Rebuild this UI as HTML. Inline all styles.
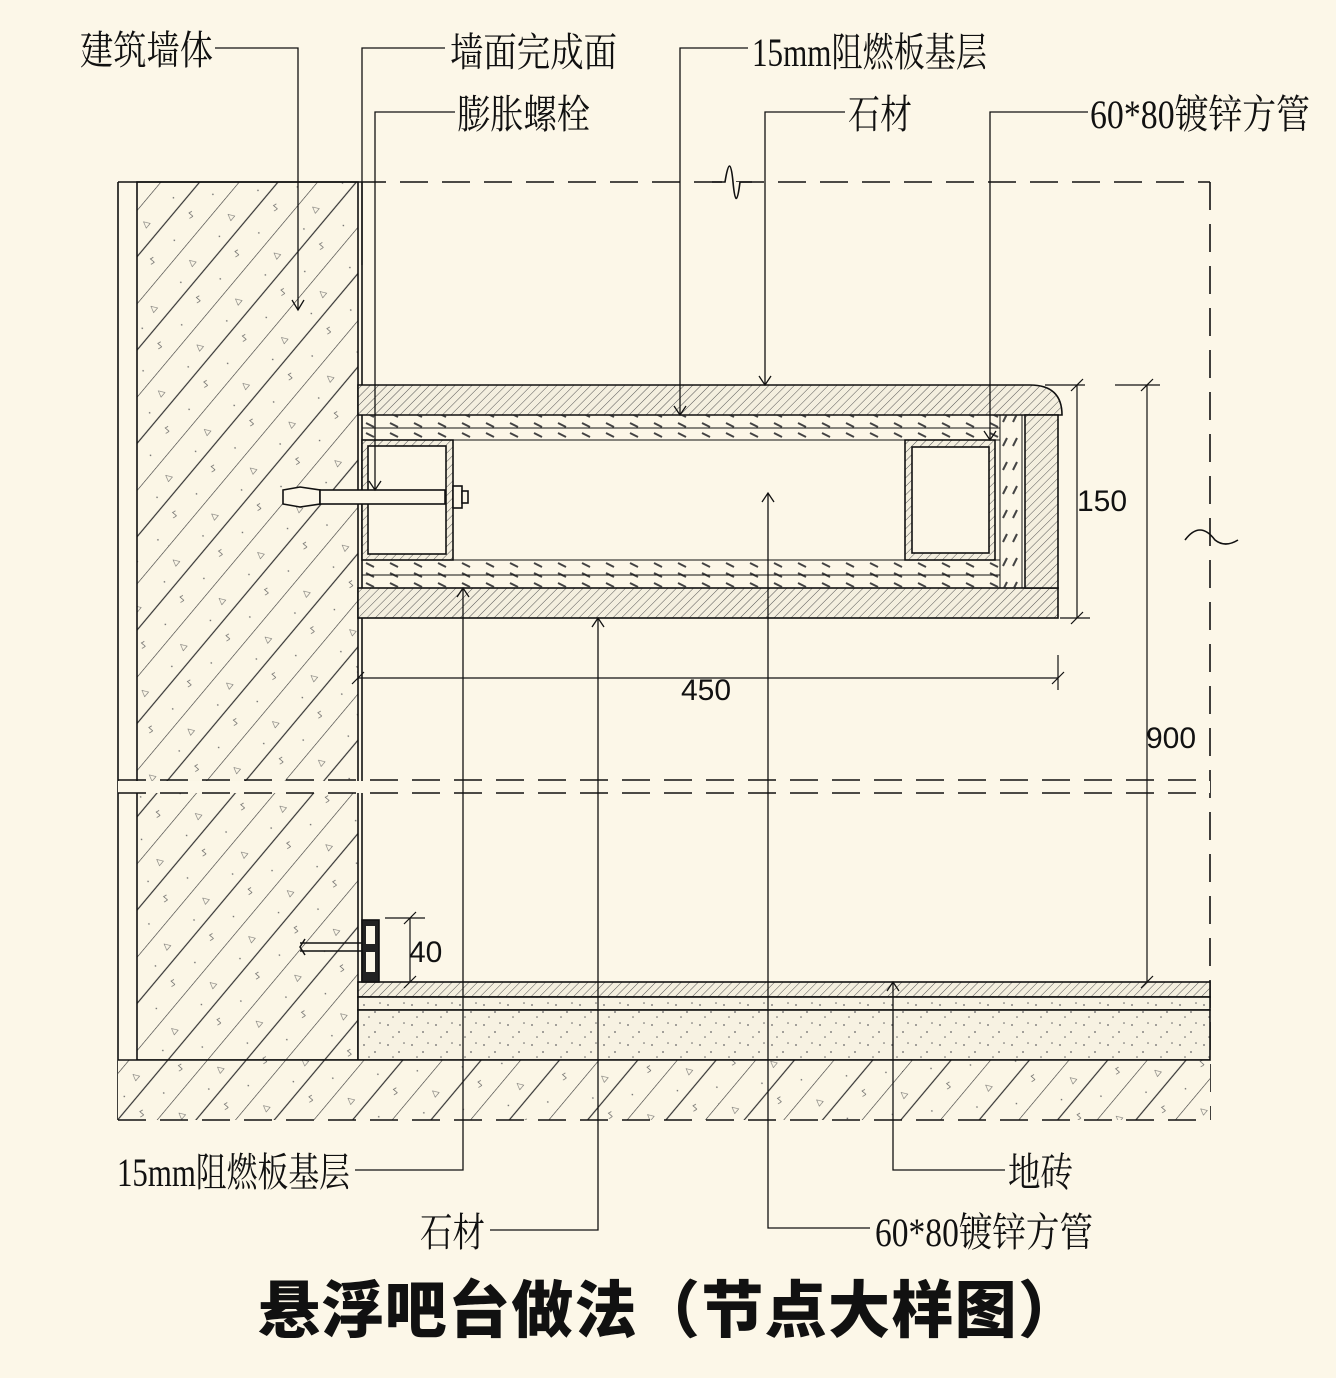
<!DOCTYPE html>
<html><head><meta charset="utf-8"><style>
html,body{margin:0;padding:0;background:#fcf7e8;}
svg{display:block}
.l{font-family:"Liberation Serif","Noto Serif CJK SC",serif;font-size:40px;fill:#111}
.d{font-family:"Liberation Sans",sans-serif;font-size:30px;fill:#111}
</style></head><body>
<svg width="1336" height="1378" viewBox="0 0 1336 1378" xmlns="http://www.w3.org/2000/svg">
<defs>
<pattern id="wall" width="60" height="60" patternUnits="userSpaceOnUse" patternTransform="rotate(40)">
<rect width="60" height="60" fill="#fbf6e6"/>
<line x1="0" y1="0" x2="0" y2="60" stroke="#333" stroke-width="1.2"/>
<line x1="30" y1="0" x2="30" y2="60" stroke="#333" stroke-width="1.2"/>
<text x="12" y="20" font-size="9" fill="#555">◁</text><text x="40" y="45" font-size="8" fill="#555">ㄣ</text>
<circle cx="20" cy="40" r="0.8" fill="#666"/><circle cx="48" cy="12" r="0.8" fill="#666"/>
</pattern>
<pattern id="fine" width="6" height="6" patternUnits="userSpaceOnUse" patternTransform="rotate(45)">
<rect width="6" height="6" fill="#f4efdf"/>
<line x1="0" y1="0" x2="0" y2="6" stroke="#555" stroke-width="1"/>
</pattern>
<pattern id="dots" width="24" height="20" patternUnits="userSpaceOnUse">
<rect width="24" height="20" fill="#f7f2e2"/>
<circle cx="4" cy="5" r="0.9" fill="#666"/><circle cx="15" cy="12" r="0.9" fill="#666"/><circle cx="9" cy="17" r="0.8" fill="#666"/><circle cx="20" cy="3" r="0.8" fill="#666"/>
</pattern>
<pattern id="board" width="24" height="10" patternUnits="userSpaceOnUse">
<line x1="6" y1="3" x2="14" y2="7" stroke="#444" stroke-width="2"/>
</pattern>
<pattern id="boardv" width="10" height="24" patternUnits="userSpaceOnUse">
<line x1="3" y1="14" x2="7" y2="6" stroke="#444" stroke-width="2"/>
</pattern>
</defs>
<rect width="1336" height="1378" fill="#fcf7e8"/>
<g stroke="#111" fill="none" stroke-width="1.6">
<!-- wall -->
<rect x="137" y="182" width="221" height="878" fill="url(#wall)"/>
<line x1="118" y1="182" x2="118" y2="1120"/>
<line x1="118" y1="182" x2="358" y2="182"/>
<line x1="358" y1="182" x2="1210" y2="182" stroke-dasharray="28,14"/>
<line x1="1210" y1="182" x2="1210" y2="1120" stroke-dasharray="28,14"/>
<path d="M712 182 L725 182 Q730 150 733 182 Q736 215 740 182 L752 182" fill="#fcf7e8"/>
<path d="M1185 540 Q1200 520 1215 540 Q1225 548 1238 540" />
<line x1="362" y1="182" x2="362" y2="1060"/>
<!-- break band -->
<rect x="118" y="781" width="1092" height="12" fill="#fcf7e8" stroke="none"/>
<line x1="118" y1="780" x2="1210" y2="780" stroke-dasharray="28,14"/>
<line x1="118" y1="793" x2="1210" y2="793" stroke-dasharray="28,14"/>
<!-- floor -->
<rect x="358" y="982" width="852" height="15" fill="url(#fine)"/>
<rect x="358" y="997" width="852" height="13" fill="url(#dots)"/>
<rect x="358" y="1010" width="852" height="50" fill="url(#dots)"/>
<rect x="118" y="1060" width="1092" height="60" fill="url(#wall)" stroke="none"/>
<line x1="118" y1="1060" x2="1210" y2="1060"/>
<line x1="118" y1="1120" x2="1210" y2="1120" stroke-dasharray="28,14"/>
<!-- counter -->
<path d="M358 385 H1030 Q1062 385 1062 415 H358 Z" fill="url(#fine)"/>
<rect x="358" y="588" width="700" height="30" fill="url(#fine)"/>
<rect x="1025" y="415" width="33" height="173" fill="url(#fine)"/>
<rect x="362" y="415" width="638" height="25" fill="url(#board)" stroke-width="1"/>
<rect x="362" y="560" width="638" height="28" fill="url(#board)" stroke-width="1"/>
<rect x="1000" y="415" width="22" height="173" fill="url(#boardv)" stroke-width="1"/>
<line x1="362" y1="428" x2="1000" y2="428" stroke-width="1"/>
<line x1="362" y1="575" x2="1000" y2="575" stroke-width="1"/>
<!-- tubes -->
<rect x="362" y="440" width="91" height="120" fill="url(#fine)"/>
<rect x="368" y="446" width="78" height="108" fill="#fcf7e8"/>
<rect x="905" y="440" width="90" height="120" fill="url(#fine)"/>
<rect x="912" y="447" width="77" height="106" fill="#fcf7e8"/>
<!-- bolt -->
<path d="M283 490 L300 487 L320 490 V504 L300 507 L283 504 Z" fill="#fcf7e8"/>
<rect x="320" y="490" width="125" height="14" fill="#fcf7e8"/>
<rect x="453" y="486" width="9" height="22" fill="#fcf7e8"/>
<rect x="462" y="491" width="6" height="12" fill="#fcf7e8"/>
<!-- skirting -->
<rect x="362" y="920" width="17" height="62" fill="#222"/>
<rect x="366" y="926" width="9" height="18" fill="#fcf7e8" stroke="none"/>
<rect x="366" y="952" width="9" height="20" fill="#fcf7e8" stroke="none"/>
<path d="M300 943 H362 M300 951 H362 M305 939 L300 947 L305 955" stroke-width="1.5"/>
<!-- dimensions -->
<g stroke-width="1.2">
<line x1="1077" y1="385" x2="1077" y2="618"/>
<line x1="1045" y1="385" x2="1085" y2="385"/><line x1="1060" y1="618" x2="1090" y2="618"/>
<line x1="1071" y1="391" x2="1083" y2="379"/><line x1="1071" y1="624" x2="1083" y2="612"/>
<line x1="1147" y1="385" x2="1147" y2="982"/>
<line x1="1115" y1="385" x2="1160" y2="385"/>
<line x1="1141" y1="391" x2="1153" y2="379"/><line x1="1141" y1="988" x2="1153" y2="976"/>
<line x1="358" y1="678" x2="1058" y2="678"/>
<line x1="1058" y1="655" x2="1058" y2="690"/>
<line x1="352" y1="684" x2="364" y2="672"/><line x1="1052" y1="684" x2="1064" y2="672"/>
<line x1="410" y1="918" x2="410" y2="982"/>
<line x1="385" y1="918" x2="425" y2="918"/>
<line x1="404" y1="924" x2="416" y2="912"/><line x1="404" y1="988" x2="416" y2="976"/>
</g>
<!-- leaders -->
<g stroke-width="1.3">
<path d="M215 48 H298 V310"/><path d="M292 300 L298 310 L304 300"/>
<path d="M445 48 H362 V265"/>
<path d="M455 112 H375 V490"/><path d="M369 481 L375 490 L381 481"/>
<path d="M748 48 H680 V415"/><path d="M674 406 L680 415 L686 406"/>
<path d="M845 112 H765 V385"/><path d="M759 376 L765 385 L771 376"/>
<path d="M1088 112 H990 V440"/><path d="M984 431 L990 440 L996 431"/>
<path d="M355 1170 H463 V588"/><path d="M457 597 L463 588 L469 597"/>
<path d="M490 1230 H598 V618"/><path d="M592 627 L598 618 L604 627"/>
<path d="M870 1228 H768 V493"/><path d="M762 502 L768 493 L774 502"/>
<path d="M1005 1170 H893 V982"/><path d="M887 991 L893 982 L899 991"/>
</g>
</g>
<text class="d" x="1077" y="511">150</text>
<text class="d" x="1146" y="748">900</text>
<text class="d" x="681" y="700">450</text>
<text class="d" x="409" y="962">40</text>
<text class="l" x="80" y="64" textLength="133" lengthAdjust="spacingAndGlyphs">建筑墙体</text>
<text class="l" x="450" y="66" textLength="167" lengthAdjust="spacingAndGlyphs">墙面完成面</text>
<text class="l" x="457" y="128" textLength="133" lengthAdjust="spacingAndGlyphs">膨胀螺栓</text>
<text class="l" x="752" y="66" textLength="235" lengthAdjust="spacingAndGlyphs">15mm阻燃板基层</text>
<text class="l" x="848" y="128" textLength="64" lengthAdjust="spacingAndGlyphs">石材</text>
<text class="l" x="1090" y="128" textLength="220" lengthAdjust="spacingAndGlyphs">60*80镀锌方管</text>
<text class="l" x="117" y="1186" textLength="233" lengthAdjust="spacingAndGlyphs">15mm阻燃板基层</text>
<text class="l" x="420" y="1246" textLength="65" lengthAdjust="spacingAndGlyphs">石材</text>
<text class="l" x="875" y="1246" textLength="218" lengthAdjust="spacingAndGlyphs">60*80镀锌方管</text>
<text class="l" x="1008" y="1186" textLength="65" lengthAdjust="spacingAndGlyphs">地砖</text>
<text x="258" y="1332" font-family="'Noto Sans CJK SC',sans-serif" font-weight="900" font-size="62" fill="#111" textLength="822" lengthAdjust="spacing">悬浮吧台做法（节点大样图）</text>
</svg>
</body></html>
